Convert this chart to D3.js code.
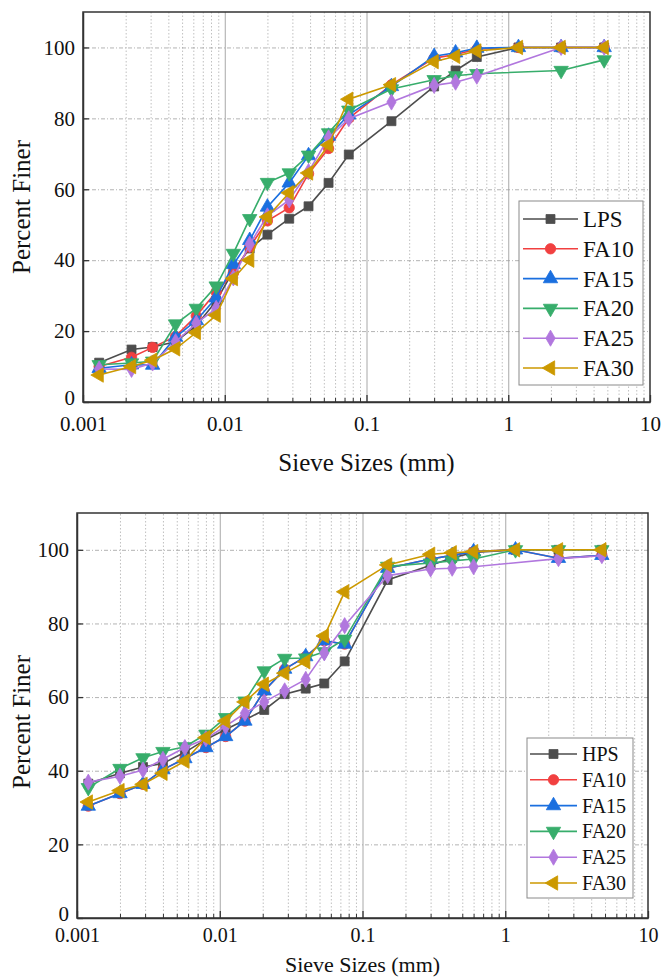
<!DOCTYPE html>
<html><head><meta charset="utf-8">
<script src="https://cdn.jsdelivr.net/npm/d3@7"></script>
<style>
html,body{margin:0;padding:0;background:#fff;}
svg{display:block;}
svg text{font-family:"Liberation Serif",Tinos,"Times New Roman","DejaVu Serif",serif !important;fill:#111;}
</style></head>
<body>
<svg id="fig" width="661" height="977"></svg>
<script>
// ---------- DATA ----------
const seriesNamesTop = ["LPS","FA10","FA15","FA20","FA25","FA30"];
const seriesNamesBot = ["HPS","FA10","FA15","FA20","FA25","FA30"];
const xTickValues = [0.001,0.01,0.1,1,10];
const xTickLabels = ["0.001","0.01","0.1","1","10"];
const yTickValues = [0,20,40,60,80,100];
const yTickLabels = ["0","20","40","60","80","100"];

const sizesTop = [0.0013,0.0022,0.0031,0.0045,0.0063,0.0087,0.0115,0.015,0.020,0.0285,0.039,0.054,0.075,0.15,0.3,0.425,0.6,1.18,2.36,4.75];
const topLPS  = [11.1,14.8,15.5,17.0,21.5,28.5,37.0,43.3,47.2,51.7,55.2,61.8,69.8,79.2,89.0,93.5,97.3,100,100,100];
const topFA10 = [10.0,12.6,15.4,18.5,24.3,31.0,36.4,43.7,51.1,54.8,64.4,71.5,80.0,89.5,97.0,98.0,99.5,100,100,100];
const topFA15 = [9.5,10.5,10.4,18.3,23.0,29.4,38.8,45.6,55.0,61.8,69.5,75.0,81.0,89.0,97.5,98.5,99.8,100,100,100];
const topFA20 = [10.5,11.0,11.5,22.0,26.4,32.7,41.9,51.7,61.9,64.6,69.6,75.9,82.3,88.3,90.9,92.0,92.6,null,93.5,96.5];
const topFA25 = [9.3,9.2,11.0,17.0,22.2,26.4,35.0,44.5,52.5,57.0,65.0,74.5,79.9,84.6,89.3,90.2,91.9,null,100,100];
const topFA30 = [7.6,10.0,11.8,15.0,19.6,24.5,34.8,40.0,52.2,59.0,64.6,72.5,85.4,89.5,96.0,97.5,99.0,100,100,100];

const sizesBot = [0.0012,0.002,0.0029,0.004,0.0057,0.008,0.011,0.015,0.0205,0.0285,0.04,0.054,0.075,0.15,0.3,0.425,0.6,1.18,2.36,4.75];
const botHPS  = [36.5,39.3,41.0,42.0,45.0,48.5,51.2,53.8,56.5,60.8,62.3,63.7,69.7,91.8,95.8,97.8,99.3,100,100,100];
const botFA10 = [30.4,33.8,36.3,40.3,43.3,46.3,49.3,53.5,61.7,67.6,71.0,75.3,74.4,95.0,97.5,98.5,99.5,100,97.7,98.5];
const botFA15 = [30.4,33.8,36.3,40.3,43.3,46.3,49.3,53.5,61.7,67.6,71.0,75.3,74.4,95.0,97.5,98.5,99.5,100,97.7,98.5];
const botFA20 = [35.4,40.6,43.5,45.2,46.5,49.9,54.4,58.9,67.1,70.5,70.6,72.3,75.7,95.5,96.4,97.0,97.5,100,100,100];
const botFA25 = [36.9,38.5,40.2,43.1,46.3,48.7,52.1,55.6,58.7,61.7,64.8,72.0,79.4,93.0,94.8,95.0,95.4,null,97.6,98.4];
const botFA30 = [31.5,34.6,36.3,39.3,42.6,49.0,53.5,58.7,63.5,66.5,69.6,76.6,88.6,95.9,98.8,99.2,99.5,100,100,100];

// ---------- STYLE ----------
const FONT = '"Liberation Serif","DejaVu Serif",serif';
const colors = ["#4d4d4d","#f14040","#1a6fdf","#37ad6b","#b177de","#cc9900"];
const shapes = [
  {type:d3.symbolSquare, size:80, rot:0},
  {type:d3.symbolCircle, size:85, rot:0},
  {type:d3.symbolTriangle, size:90, rot:0},
  {type:d3.symbolTriangle, size:90, rot:180},
  {type:d3.symbolDiamond, size:75, rot:0},
  {type:d3.symbolTriangle, size:90, rot:-90}
];

const svg = d3.select("#fig");

function drawChart(cfg){
  const g = svg.append("g");
  const x = d3.scaleLog().domain([0.001,10]).range([cfg.left,cfg.right]);
  const y = d3.scaleLinear().domain([0,110]).range([cfg.bottom,cfg.top]);
  const h = cfg.bottom - cfg.top, w = cfg.right - cfg.left;

  const minor = [];
  [0.001,0.01,0.1,1].forEach(d=>{ for(let k=2;k<=9;k++) minor.push(d*k); });

  g.append("g").attr("transform",`translate(0,${cfg.bottom})`)
    .call(d3.axisBottom(x).tickValues(minor).tickSize(-h).tickFormat(""))
    .call(s=>{s.select(".domain").remove();
      s.selectAll("line").attr("stroke","#b0b0b0").attr("stroke-width",0.8).attr("stroke-dasharray","1.5,2");});
  g.append("g").attr("transform",`translate(0,${cfg.bottom})`)
    .call(d3.axisBottom(x).tickValues([0.01,0.1,1]).tickSize(-h).tickFormat(""))
    .call(s=>{s.select(".domain").remove();
      s.selectAll("line").attr("stroke","#a8a8a8").attr("stroke-width",1);});
  g.append("g").attr("transform",`translate(${cfg.left},0)`)
    .call(d3.axisLeft(y).tickValues([20,40,60,80,100]).tickSize(-w).tickFormat(""))
    .call(s=>{s.select(".domain").remove();
      s.selectAll("line").attr("stroke","#a0a0a0").attr("stroke-width",0.8).attr("stroke-dasharray","4,2,1,2");});

  const line = d3.line().x(d=>x(d[0])).y(d=>y(d[1]));
  cfg.series.forEach((vals,i)=>{
    const pts = cfg.sizes.map((s,j)=>[s,vals[j]]).filter(p=>p[1]!==null);
    g.append("path").datum(pts).attr("d",line)
      .attr("fill","none").attr("stroke",colors[i]).attr("stroke-width",1.6);
    const sym = d3.symbol().type(shapes[i].type).size(shapes[i].size);
    g.append("g").selectAll("path").data(pts).join("path")
      .attr("d",sym)
      .attr("transform",p=>`translate(${x(p[0])},${y(p[1])}) rotate(${shapes[i].rot})`)
      .attr("fill",colors[i]).attr("stroke",colors[i]).attr("stroke-width",0.8);
  });

  g.append("rect").attr("x",cfg.left).attr("y",cfg.top).attr("width",w).attr("height",h)
    .attr("fill","none").attr("stroke","#333").attr("stroke-width",1.5);

  const xa = g.append("g").attr("transform",`translate(0,${cfg.bottom})`)
    .call(d3.axisBottom(x).tickValues(xTickValues).tickSizeInner(-7).tickSizeOuter(0)
      .tickPadding(cfg.xPad).tickFormat((d,i)=>xTickLabels[i]));
  xa.attr("font-family",FONT);
  xa.select(".domain").attr("stroke","#333").attr("stroke-width",1.5);
  xa.selectAll("line").attr("stroke","#333").attr("stroke-width",1.3);
  xa.selectAll("text").attr("font-size",cfg.xFs).attr("fill","#111").attr("font-family",FONT);
  g.append("g").attr("transform",`translate(0,${cfg.bottom})`)
    .call(d3.axisBottom(x).tickValues(minor).tickSize(-4).tickFormat(""))
    .call(s=>{s.select(".domain").remove(); s.selectAll("line").attr("stroke","#333").attr("stroke-width",1);});

  const ya = g.append("g").attr("transform",`translate(${cfg.left},0)`)
    .call(d3.axisLeft(y).tickValues(yTickValues).tickSizeInner(-6).tickSizeOuter(0)
      .tickPadding(8).tickFormat((d,i)=>yTickLabels[i]));
  ya.attr("font-family",FONT);
  ya.select(".domain").attr("stroke","#333").attr("stroke-width",1.5);
  ya.selectAll("line").attr("stroke","#333").attr("stroke-width",1.3);
  ya.selectAll("text").attr("font-size",21).attr("fill","#111").attr("font-family",FONT);
  ya.selectAll(".tick").filter(d=>d===0).select("text").attr("dy","0.1em");

  g.append("text").attr("x",(cfg.left+cfg.right)/2).attr("y",cfg.xTitleY)
    .attr("text-anchor","middle").attr("font-size",cfg.xTitleFs).attr("font-family",FONT).text("Sieve Sizes (mm)");
  g.append("text").attr("transform",`translate(${cfg.yTitleX},${cfg.yTitleCY}) rotate(-90)`)
    .attr("text-anchor","middle").attr("font-size",25).attr("font-family",FONT).text("Percent Finer");

  const L = cfg.legend;
  g.append("rect").attr("x",L.x0).attr("y",L.y0).attr("width",L.x1-L.x0).attr("height",L.y1-L.y0)
    .attr("fill","#fff").attr("stroke","#8a8a8a").attr("stroke-width",1);
  cfg.names.forEach((nm,i)=>{
    const yy = L.firstY + i*L.step;
    g.append("line").attr("x1",L.lx0).attr("x2",L.lx1).attr("y1",yy).attr("y2",yy)
      .attr("stroke",colors[i]).attr("stroke-width",1.6);
    g.append("path").attr("d",d3.symbol().type(shapes[i].type).size(shapes[i].size)())
      .attr("transform",`translate(${(L.lx0+L.lx1)/2},${yy}) rotate(${shapes[i].rot})`)
      .attr("fill",colors[i]).attr("stroke",colors[i]).attr("stroke-width",0.8);
    g.append("text").attr("x",L.tx).attr("y",yy).attr("dy","0.35em")
      .attr("font-size",L.fs).attr("font-family",FONT).text(nm);
  });
}

drawChart({
  left:83, right:650, top:12, bottom:402,
  sizes:sizesTop, series:[topLPS,topFA10,topFA15,topFA20,topFA25,topFA30], names:seriesNamesTop,
  xPad:14, xFs:21,
  xTitleY:471, xTitleFs:25, yTitleX:30, yTitleCY:207,
  legend:{x0:519,x1:643,y0:201,y1:385,firstY:219,step:29.8,lx0:523,lx1:578,tx:583,fs:23}
});
drawChart({
  left:77, right:648, top:513, bottom:918,
  sizes:sizesBot, series:[botHPS,botFA10,botFA15,botFA20,botFA25,botFA30], names:seriesNamesBot,
  xPad:10, xFs:20,
  xTitleY:972, xTitleFs:22, yTitleX:30, yTitleCY:722,
  legend:{x0:527,x1:633,y0:738,y1:898,firstY:754,step:25.8,lx0:530,lx1:577,tx:582,fs:20}
});
</script>
</body></html>
